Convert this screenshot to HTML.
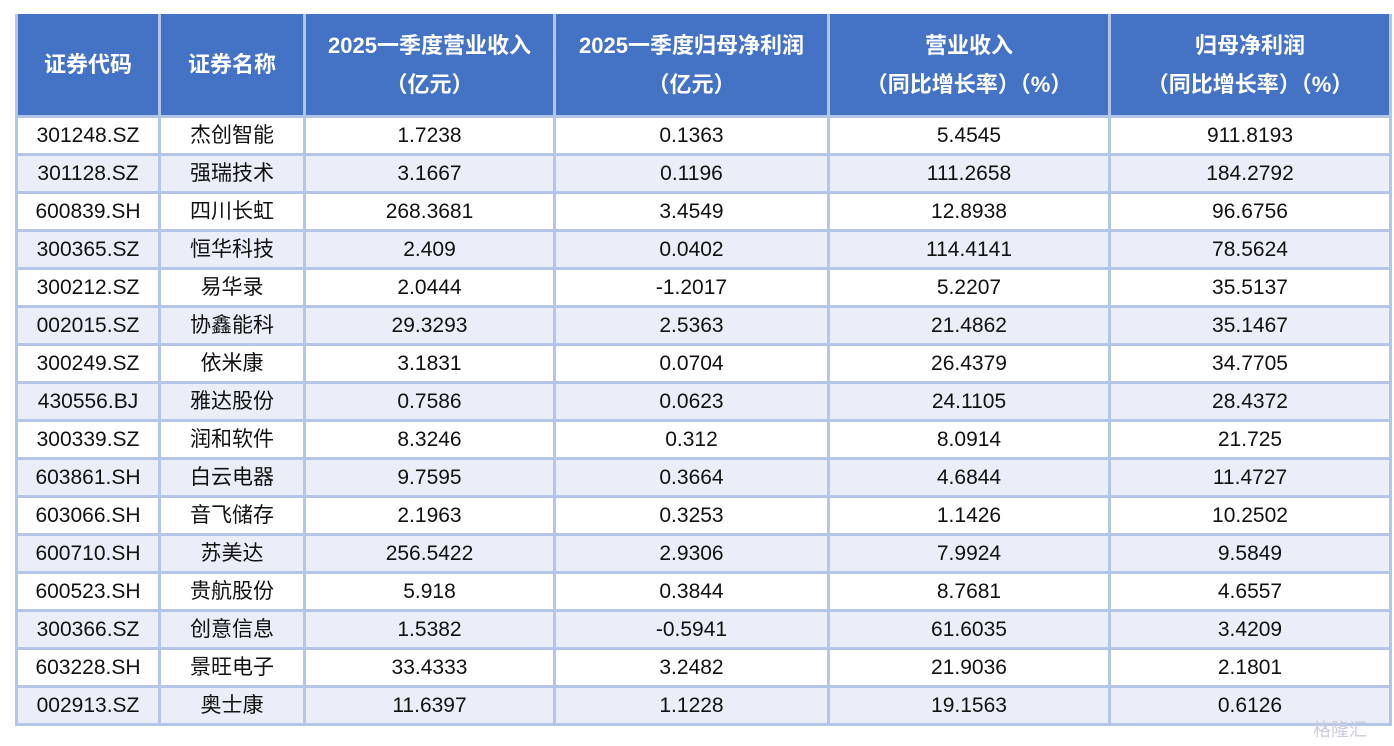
<!DOCTYPE html>
<html><head><meta charset="utf-8"><style>
body{margin:0;background:#fff;width:1394px;height:746px;overflow:hidden;position:relative;font-family:"Liberation Sans","Noto Sans CJK SC",sans-serif}
#t{position:absolute;left:15px;top:14px;border-collapse:collapse;table-layout:fixed;border-right:3px solid #5577bb;border-bottom:3px solid #5577bb}
td,th{border:3px solid #b4c6e7;text-align:center;padding:0;font-size:21px;color:#111;height:35px;line-height:35px;white-space:nowrap;box-sizing:content-box}
th{background:#4472c4;color:#fff;font-weight:bold;font-size:22px;height:101px;line-height:39px;border-top:none;border-color:#b4c6e7}
tr:nth-child(odd) td{background:#fff}
tr:nth-child(even) td{background:#e9eef8}
#wm{position:absolute;left:1313px;top:716px;color:#ccd;font-size:18px}
</style></head><body>
<table id="t">
<colgroup><col style="width:143px"><col style="width:145px"><col style="width:250px"><col style="width:274px"><col style="width:281px"><col style="width:281px"></colgroup>
<thead><tr>
<th>证券代码</th>
<th>证券名称</th>
<th>2025一季度营业收入<br>（亿元）</th>
<th>2025一季度归母净利润<br>（亿元）</th>
<th>营业收入<br>（同比增长率）（%）</th>
<th>归母净利润<br>（同比增长率）（%）</th>
</tr></thead>
<tbody id="tb"></tbody></table>
<div id="wm">格隆汇</div>
<script>
const codes=["301248.SZ","301128.SZ","600839.SH","300365.SZ","300212.SZ","002015.SZ","300249.SZ","430556.BJ","300339.SZ","603861.SH","603066.SH","600710.SH","600523.SH","300366.SZ","603228.SH","002913.SZ"];
const names=["杰创智能","强瑞技术","四川长虹","恒华科技","易华录","协鑫能科","依米康","雅达股份","润和软件","白云电器","音飞储存","苏美达","贵航股份","创意信息","景旺电子","奥士康"];
const revenue=["1.7238","3.1667","268.3681","2.409","2.0444","29.3293","3.1831","0.7586","8.3246","9.7595","2.1963","256.5422","5.918","1.5382","33.4333","11.6397"];
const profit=["0.1363","0.1196","3.4549","0.0402","-1.2017","2.5363","0.0704","0.0623","0.312","0.3664","0.3253","2.9306","0.3844","-0.5941","3.2482","1.1228"];
const revGrowth=["5.4545","111.2658","12.8938","114.4141","5.2207","21.4862","26.4379","24.1105","8.0914","4.6844","1.1426","7.9924","8.7681","61.6035","21.9036","19.1563"];
const profGrowth=["911.8193","184.2792","96.6756","78.5624","35.5137","35.1467","34.7705","28.4372","21.725","11.4727","10.2502","9.5849","4.6557","3.4209","2.1801","0.6126"];
const tb=document.getElementById('tb');
const cols=["code","name","revenue","profit","revenue-growth","profit-growth"];
codes.forEach((c,i)=>{
 const tr=document.createElement('tr');
 
 
 [c,names[i],revenue[i],profit[i],revGrowth[i],profGrowth[i]].forEach((v,j)=>{
  const td=document.createElement('td');
  td.textContent=v;
  
  
  tr.appendChild(td);
 });
 tb.appendChild(tr);
});
</script>
</body></html>
